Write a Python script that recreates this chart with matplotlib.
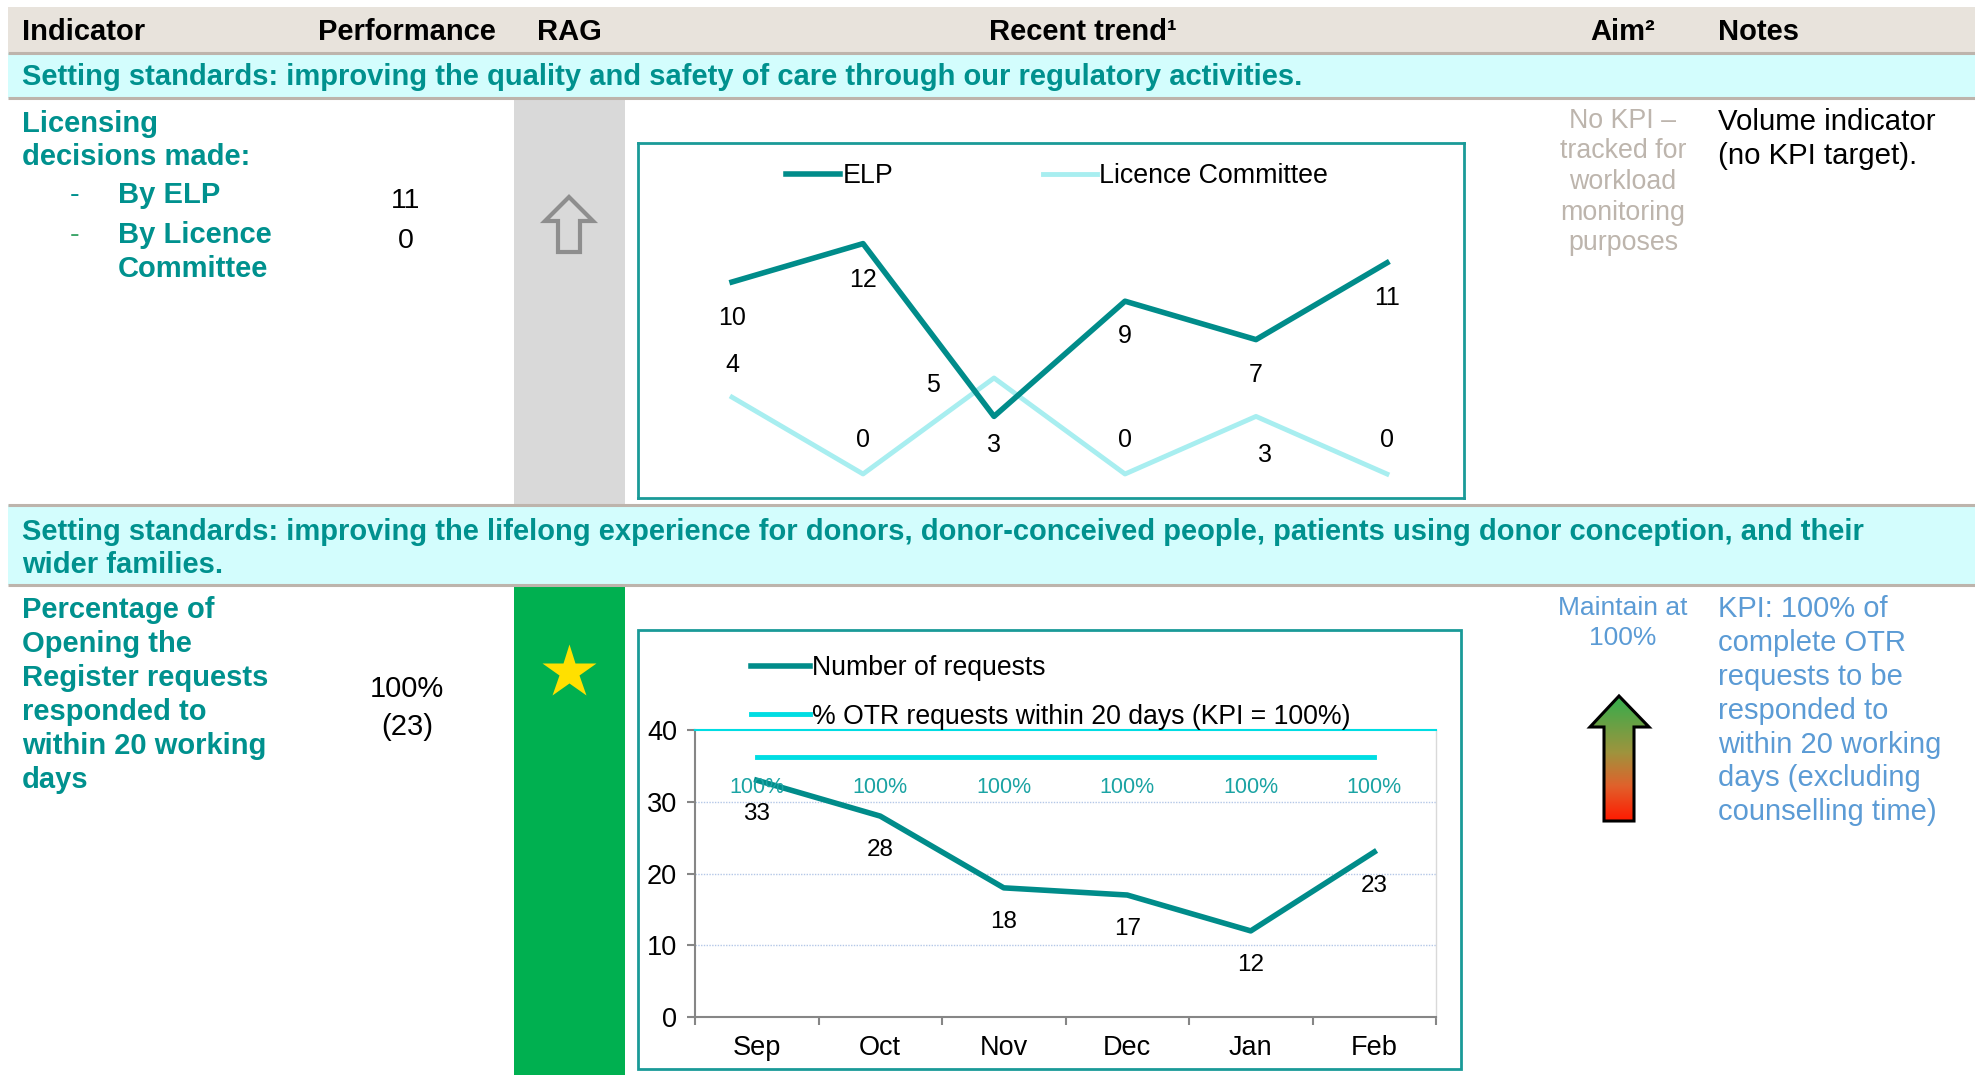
import numpy as np
import matplotlib
matplotlib.use("Agg")
import matplotlib.pyplot as plt
from matplotlib.patches import Rectangle, Polygon

plt.rcParams['font.family'] = ['Liberation Sans', 'DejaVu Sans']

# Data
months = ['Sep', 'Oct', 'Nov', 'Dec', 'Jan', 'Feb']
elp_decisions = [10, 12, 3, 9, 7, 11]
committee_decisions = [4, 0, 5, 0, 3, 0]
otr_requests = [33, 28, 18, 17, 12, 23]
otr_pct_within_20 = [100, 100, 100, 100, 100, 100]
y_ticks_requests = [0, 10, 20, 30, 40]

# label offsets (pixels, y up) - placed like the original Excel labels
elp_label_off = [(0, -36), (0, -36), (0, -29), (0, -35), (0, -35), (0, -35)]
committee_label_off = [(0, 32), (0, 34), (-61, -7), (0, 34), (9, -39), (0, 34)]

# Colours
TEAL = '#00918E'
TEAL_LINE = '#008C8A'
LIGHT_CYAN_LINE = '#A8EEF0'
CYAN_LINE = '#00DDE3'
BAND_CYAN = '#D3FDFD'
HEADER_BG = '#E8E3DC'
SEP = '#BDB4AC'
BLUE_TXT = '#5B9BD5'
GREY_TXT = '#BDB5AD'

W, H = 1975, 1075
fig = plt.figure(figsize=(W / 100, H / 100), dpi=100)


def px_rect(x0, y0, x1, y1):
    return [x0 / W, 1 - y1 / H, (x1 - x0) / W, (y1 - y0) / H]


# Background "table" axes in pixel coordinates
bg = fig.add_axes([0, 0, 1, 1])
bg.set_xlim(0, W)
bg.set_ylim(H, 0)
bg.axis('off')

# header + section bands
bg.add_patch(Rectangle((8, 7), W - 8, 45, color=HEADER_BG, lw=0))
bg.add_patch(Rectangle((8, 53), W - 8, 45, color=BAND_CYAN, lw=0))
bg.add_patch(Rectangle((8, 505), W - 8, 80, color=BAND_CYAN, lw=0))
for yy in [52.5, 98, 505, 585]:
    bg.plot([8, W], [yy, yy], color=SEP, lw=2.2, solid_capstyle='butt')

# RAG columns
bg.add_patch(Rectangle((514, 99), 111, 405, color='#D9D9D9', lw=0))
bg.add_patch(Rectangle((514, 586), 111, H - 586, color='#00B050', lw=0))


def put_lines(x, y0, dy, rows, **kw):
    for i, s in enumerate(rows):
        bg.text(x, y0 + i * dy, s, va='baseline', **kw)


# header
hdr = dict(fontsize=21, fontweight='bold', color='black', va='baseline')
bg.text(22, 40, 'Indicator', **hdr)
bg.text(318, 40, 'Performance', **hdr)
bg.text(537, 40, 'RAG', **hdr)
bg.text(1083, 40, 'Recent trend\u00b9', ha='center', **hdr)
bg.text(1590, 40, 'Aim\u00b2', **hdr)
bg.text(1718, 40, 'Notes', **hdr)

# section headers
sec = dict(fontsize=21, fontweight='bold', color=TEAL)
put_lines(22, 85, 0, ['Setting standards: improving the quality and safety of care through our regulatory activities.'], **sec)
put_lines(22, 540, 33, ['Setting standards: improving the lifelong experience for donors, donor-conceived people, patients using donor conception, and their',
                        'wider families.'], **sec)

# row 1 text
body = dict(fontsize=21, fontweight='bold', color=TEAL)
put_lines(22, 132, 33, ['Licensing', 'decisions made:'], **body)
put_lines(118, 203, 40, ['By ELP', 'By Licence'], **body)
put_lines(118, 277, 0, ['Committee'], **body)
bg.text(70, 203, '-', va='baseline', fontsize=21, color=TEAL)
bg.text(70, 243, '-', va='baseline', fontsize=21, color='#3FA66B')
put_lines(406, 208, 40, ['11', '0'], fontsize=20.5, color='black', ha='center')

# hollow grey arrow in RAG cell
bg.add_patch(Polygon([(569, 197), (593, 221), (580, 221), (580, 252), (558, 252),
                      (558, 221), (545, 221)], closed=True, facecolor='#D9D9D9',
                     edgecolor='#8E8E8E', lw=3, joinstyle='miter'))

put_lines(1623, 128, 30.5, ['No KPI \u2013', 'tracked for', 'workload', 'monitoring', 'purposes'],
          fontsize=19.3, color=GREY_TXT, ha='center')
put_lines(1718, 130, 34, ['Volume indicator', '(no KPI target).'], fontsize=21.2, color='black')

# row 2 text
put_lines(22, 618, 34, ['Percentage of', 'Opening the', 'Register requests', 'responded to',
                        'within 20 working', 'days'], **body)
put_lines(407, 697, 38, ['100%', '(23)'], fontsize=21, color='black', ha='center')
bg.plot([569], [672], marker='*', ms=41, color='#FFE000', mec='none')

put_lines(1623, 615, 30, ['Maintain at', '100%'], fontsize=19, color=BLUE_TXT, ha='center')
put_lines(1718, 617, 33.9, ['KPI: 100% of', 'complete OTR', 'requests to be', 'responded to',
                            'within 20 working', 'days (excluding', 'counselling time)'],
          fontsize=21, color=BLUE_TXT)

# gradient arrow (green -> olive -> orange -> red)
arrow = Polygon([(1619, 696), (1649, 727), (1634, 727), (1634, 821), (1604, 821),
                 (1604, 727), (1590, 727)], closed=True, facecolor='none',
                edgecolor='black', lw=2.2, zorder=3)
bg.add_patch(arrow)
stops = np.array([0.0, 0.45, 0.72, 1.0])
stop_cols = np.array([[0.20, 0.68, 0.30],
                      [0.62, 0.58, 0.24],
                      [0.88, 0.38, 0.17],
                      [1.00, 0.10, 0.00]])
t = np.linspace(0, 1, 256)
grad = np.stack([np.interp(t, stops, stop_cols[:, k]) for k in range(3)], axis=-1)
grad = np.repeat(grad[:, None, :], 2, axis=1)
im = bg.imshow(grad, extent=(1590, 1649, 821, 696), aspect='auto', zorder=2,
               interpolation='bilinear')
im.set_clip_path(arrow)
bg.set_xlim(0, W)
bg.set_ylim(H, 0)

# chart 2 outer box
bg.add_patch(Rectangle((638, 630), 823, 439, facecolor='none', edgecolor='#1A9A98', lw=2))

# ---------------- Chart 1: licensing decisions ----------------
x = np.arange(len(months))
ax1 = fig.add_axes(px_rect(638, 143, 1464, 498))
ax1.set_facecolor('none')
ax1.set_xlim(-0.718, 5.588)
ax1.set_ylim(-1.25, 17.24)
ax1.set_xticks([])
ax1.set_yticks([])
for s in ax1.spines.values():
    s.set_color('#1A9A98')
    s.set_linewidth(2)

ax1.plot(x, committee_decisions, color=LIGHT_CYAN_LINE, lw=3.5, label='Licence Committee', zorder=2)
ax1.plot(x, elp_decisions, color=TEAL_LINE, lw=4, label='ELP', zorder=3)
for xi, v, off in zip(x, elp_decisions, elp_label_off):
    ax1.annotate(str(v), (xi, v), xytext=off, textcoords='offset pixels',
                 ha='center', va='center', fontsize=18)
for xi, v, off in zip(x, committee_decisions, committee_label_off):
    ax1.annotate(str(v), (xi, v), xytext=off, textcoords='offset pixels',
                 ha='center', va='center', fontsize=18)
h, l = ax1.get_legend_handles_labels()
ax1.legend(h[::-1], l[::-1], ncol=2, loc='upper left', frameon=False,
           bbox_to_anchor=(786 / W, 1 - 163 / H), bbox_transform=fig.transFigure,
           borderpad=0, borderaxespad=0, handlelength=2.0, handletextpad=0.1,
           columnspacing=5.6, fontsize=19.3)

# ---------------- Chart 2: OTR requests ----------------
ax2 = fig.add_axes(px_rect(695, 730, 1436, 1017))
ax2.set_facecolor('none')
ax2.set_xlim(-0.5, 5.5)
ax2.set_ylim(0, 40)
ax2.set_yticks(y_ticks_requests)
ax2.set_xticks(x)
ax2.set_xticklabels(months)
ax2.set_xticks(np.arange(-0.5, 6, 1), minor=True)
ax2.tick_params(axis='x', which='major', length=0, pad=13, labelsize=19.5)
ax2.tick_params(axis='x', which='minor', length=6, width=1.5, color='#868686', direction='out')
ax2.tick_params(axis='y', length=6, width=1.5, color='#868686', pad=7, labelsize=19.5)
for yv in y_ticks_requests[1:-1]:
    ax2.axhline(yv, color='#B4C7E7', lw=1, ls=(0, (1, 1)), zorder=0)
ax2.spines['left'].set_color('#868686')
ax2.spines['left'].set_linewidth(1.5)
ax2.spines['bottom'].set_color('#868686')
ax2.spines['bottom'].set_linewidth(1.5)
ax2.spines['top'].set_color(CYAN_LINE)
ax2.spines['top'].set_linewidth(1.5)
ax2.spines['right'].set_color('#D9D9D9')
ax2.spines['right'].set_linewidth(1)

l1, = ax2.plot(x, otr_requests, color=TEAL_LINE, lw=4, label='Number of requests', zorder=3)
for xi, v in zip(x, otr_requests):
    ax2.annotate(str(v), (xi, v), xytext=(0, -34), textcoords='offset pixels',
                 ha='center', va='center', fontsize=17.5)

ax2b = ax2.twinx()
ax2b.set_ylim(0, 110.4)
ax2b.set_yticks([])
for s in ax2b.spines.values():
    s.set_visible(False)
l2, = ax2b.plot(x, otr_pct_within_20, color=CYAN_LINE, lw=3.5,
                label='% OTR requests within 20 days (KPI = 100%)')
for xi, v in zip(x, otr_pct_within_20):
    ax2b.annotate(f'{v}%', (xi, v), xytext=(0, -30), textcoords='offset pixels',
                  ha='center', va='center', fontsize=15.5, color='#1AA3A3')

ax2b.legend([l1, l2], [l1.get_label(), l2.get_label()], loc='upper left', frameon=False,
            bbox_to_anchor=(751 / W, 1 - 655 / H), bbox_transform=fig.transFigure,
            borderpad=0, borderaxespad=0, handlelength=2.2, handletextpad=0.1,
            labelspacing=0.85, fontsize=19.2)

fig.savefig('out.png', dpi=100)
